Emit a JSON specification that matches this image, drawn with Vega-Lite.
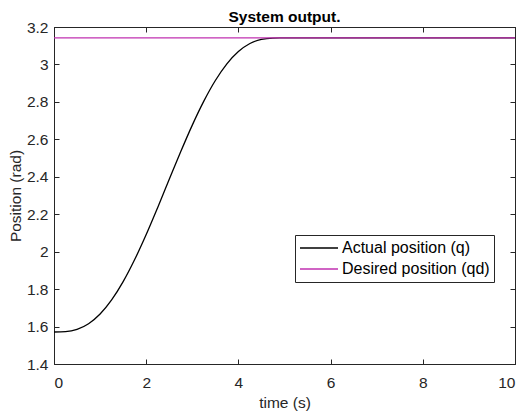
{
  "$schema": "https://vega.github.io/schema/vega-lite/v6.json",
  "width": 461,
  "height": 337,
  "autosize": {"type": "none"},
  "padding": {"left": 54, "top": 27, "right": 10, "bottom": 49},
  "background": "white",
  "title": {"text": "System output.", "font": "Liberation Sans", "fontSize": 15.5, "fontWeight": "bold", "color": "#000000", "offset": -5},
  "config": {
    "view": {"stroke": "#262626", "strokeWidth": 1},
    "axis": {
      "labelFont": "Liberation Sans", "titleFont": "Liberation Sans",
      "labelFontSize": 15.5, "titleFontSize": 15.5, "titleFontWeight": "normal",
      "labelColor": "#262626", "titleColor": "#262626",
      "domainColor": "#262626", "tickColor": "#262626",
      "grid": false, "tickSize": -5
    },
    "legend": {"labelFont": "Liberation Sans"}
  },
  "data": {"values": [
    {"t": 0, "pos": 1.5708, "series": "Actual position (q)"},
    {"t": 0.25, "pos": 1.5727, "series": "Actual position (q)"},
    {"t": 0.5, "pos": 1.5850, "series": "Actual position (q)"},
    {"t": 0.75, "pos": 1.6150, "series": "Actual position (q)"},
    {"t": 1.0, "pos": 1.6668, "series": "Actual position (q)"},
    {"t": 1.25, "pos": 1.7420, "series": "Actual position (q)"},
    {"t": 1.5, "pos": 1.8398, "series": "Actual position (q)"},
    {"t": 1.75, "pos": 1.9578, "series": "Actual position (q)"},
    {"t": 2.0, "pos": 2.0917, "series": "Actual position (q)"},
    {"t": 2.25, "pos": 2.2365, "series": "Actual position (q)"},
    {"t": 2.5, "pos": 2.3862, "series": "Actual position (q)"},
    {"t": 2.75, "pos": 2.5347, "series": "Actual position (q)"},
    {"t": 3.0, "pos": 2.6759, "series": "Actual position (q)"},
    {"t": 3.25, "pos": 2.8039, "series": "Actual position (q)"},
    {"t": 3.5, "pos": 2.9142, "series": "Actual position (q)"},
    {"t": 3.75, "pos": 3.0033, "series": "Actual position (q)"},
    {"t": 4.0, "pos": 3.0690, "series": "Actual position (q)"},
    {"t": 4.25, "pos": 3.1120, "series": "Actual position (q)"},
    {"t": 4.5, "pos": 3.1342, "series": "Actual position (q)"},
    {"t": 4.75, "pos": 3.1411, "series": "Actual position (q)"},
    {"t": 4.9, "pos": 3.1416, "series": "Actual position (q)"},
    {"t": 10, "pos": 3.1416, "series": "Actual position (q)"},
    {"t": 0, "pos": 3.1416, "series": "Desired position (qd)"},
    {"t": 10, "pos": 3.1416, "series": "Desired position (qd)"}
  ]},
  "layer": [
    {
      "mark": {"type": "line", "strokeWidth": 1.3, "interpolate": "monotone"},
      "encoding": {
        "x": {"field": "t", "type": "quantitative", "scale": {"domain": [0, 10], "nice": false},
              "axis": {"orient": "bottom", "title": "time (s)", "values": [0, 2, 4, 6, 8, 10], "labelPadding": 16, "titlePadding": 5}},
        "y": {"field": "pos", "type": "quantitative", "scale": {"domain": [1.4, 3.2], "nice": false, "zero": false},
              "axis": {"orient": "left", "title": "Position (rad)", "values": [1.4, 1.6, 1.8, 2.0, 2.2, 2.4, 2.6, 2.8, 3.0, 3.2], "format": "~g", "labelPadding": 11, "titlePadding": 3}},
        "color": {"field": "series", "type": "nominal",
                  "scale": {"domain": ["Actual position (q)", "Desired position (qd)"], "range": ["#000000", "#C030B0"]},
                  "legend": {"title": null, "orient": "none", "legendX": 241, "legendY": 208,
                             "symbolType": "stroke", "symbolSize": 1444, "symbolStrokeWidth": 1.3, "clipHeight": 18,
                             "labelFontSize": 16, "labelColor": "#000000", "labelOffset": 3,
                             "strokeColor": "#262626", "fillColor": "white", "padding": 4, "rowPadding": 3}}
      }
    },
    {
      "mark": {"type": "line", "opacity": 0},
      "encoding": {
        "x": {"field": "t", "type": "quantitative", "axis": {"orient": "top", "title": null, "labels": false, "values": [0, 2, 4, 6, 8, 10]}},
        "y": {"field": "pos", "type": "quantitative", "axis": {"orient": "right", "title": null, "labels": false, "values": [1.4, 1.6, 1.8, 2.0, 2.2, 2.4, 2.6, 2.8, 3.0, 3.2]}},
        "detail": {"field": "series"}
      }
    }
  ],
  "resolve": {"axis": {"x": "independent", "y": "independent"}}
}
